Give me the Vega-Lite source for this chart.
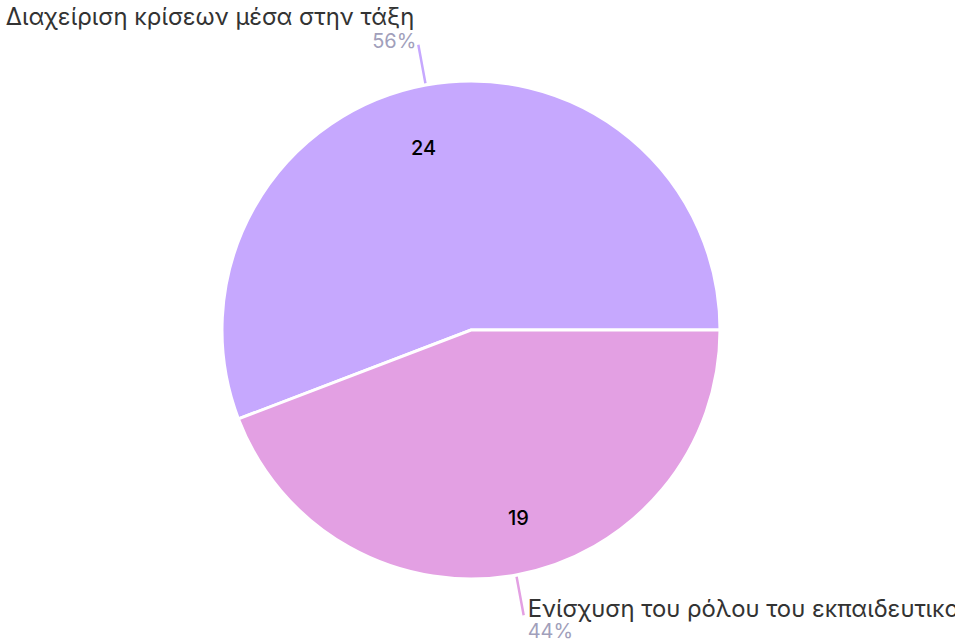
{
  "$schema": "https://vega.github.io/schema/vega-lite/v6.json",
  "autosize": {"type": "none"},
  "width": 942,
  "height": 620,
  "padding": {"left": 0, "top": 20, "right": 13, "bottom": 1},
  "background": "white",
  "config": {"view": {"stroke": null}, "font": "Inter"},
  "data": {
    "values": [
      {"label": "Διαχείριση κρίσεων μέσα στην τάξη", "value": 24, "pct": "56%"},
      {"label": "Ενίσχυση του ρόλου του εκπαιδευτικού", "value": 19, "pct": "44%"}
    ]
  },
  "resolve": {"scale": {"theta": "independent"}},
  "layer": [
    {
      "mark": {"type": "arc", "radius": 249, "stroke": "white", "strokeWidth": 3},
      "encoding": {
        "theta": {"field": "value", "type": "quantitative", "stack": true, "scale": {"range": [1.5708, 7.854]}},
        "order": {"field": "label", "sort": "descending"},
        "color": {"field": "label", "type": "nominal", "legend": null,
          "scale": {"domain": ["Διαχείριση κρίσεων μέσα στην τάξη", "Ενίσχυση του ρόλου του εκπαιδευτικού"], "range": ["#c6a8fe", "#e3a0e3"]}}
      }
    },
    {
      "mark": {"type": "arc", "radius": 290, "radius2": 251, "padAngle": 3, "stroke": "#e3a0e3", "strokeWidth": 2.5, "fill": null},
      "encoding": {
        "theta": {"field": "value", "type": "quantitative", "stack": true, "scale": {"range": [1.5708, 7.854]}},
        "order": {"field": "label", "sort": "descending"},
        "strokeOpacity": {"condition": {"test": "datum.label === 'Ενίσχυση του ρόλου του εκπαιδευτικού'", "value": 1}, "value": 0}
      }
    },
    {
      "mark": {"type": "arc", "radius": 290, "radius2": 251, "padAngle": 3, "stroke": "#c6a8fe", "strokeWidth": 2.5, "fill": null},
      "encoding": {
        "theta": {"field": "value", "type": "quantitative", "stack": true, "scale": {"range": [4.7124, 10.9956]}},
        "order": {"field": "label", "sort": "descending"},
        "strokeOpacity": {"condition": {"test": "datum.label === 'Ενίσχυση του ρόλου του εκπαιδευτικού'", "value": 1}, "value": 0}
      }
    },
    {
      "mark": {"type": "text", "radius": 191, "thetaOffset": -0.068, "fontSize": 20, "fontWeight": 500, "fill": "#000000", "dy": 4},
      "encoding": {
        "theta": {"field": "value", "type": "quantitative", "stack": true, "scale": {"range": [1.5708, 7.854]}},
        "order": {"field": "label", "sort": "descending"},
        "text": {"field": "value", "type": "quantitative"}
      }
    },
    {
      "mark": {"type": "text", "radius": 290, "fontSize": 23.8, "fill": "#333333", "align": "right", "baseline": "alphabetic", "dx": -4, "dy": -20},
      "encoding": {
        "theta": {"field": "value", "type": "quantitative", "stack": true, "scale": {"range": [1.5708, 7.854]}},
        "order": {"field": "label", "sort": "descending"},
        "text": {"field": "label", "type": "nominal"},
        "opacity": {"condition": {"test": "datum.label === 'Διαχείριση κρίσεων μέσα στην τάξη'", "value": 1}, "value": 0}
      }
    },
    {
      "mark": {"type": "text", "radius": 290, "fontSize": 20, "fill": "#a19fbb", "align": "right", "baseline": "alphabetic", "dx": -2, "dy": 3},
      "encoding": {
        "theta": {"field": "value", "type": "quantitative", "stack": true, "scale": {"range": [1.5708, 7.854]}},
        "order": {"field": "label", "sort": "descending"},
        "text": {"field": "pct", "type": "nominal"},
        "opacity": {"condition": {"test": "datum.label === 'Διαχείριση κρίσεων μέσα στην τάξη'", "value": 1}, "value": 0}
      }
    },
    {
      "mark": {"type": "text", "radius": 290, "fontSize": 23.8, "fill": "#333333", "align": "left", "baseline": "alphabetic", "dx": 4, "dy": 2},
      "encoding": {
        "theta": {"field": "value", "type": "quantitative", "stack": true, "scale": {"range": [1.5708, 7.854]}},
        "order": {"field": "label", "sort": "descending"},
        "text": {"field": "label", "type": "nominal"},
        "opacity": {"condition": {"test": "datum.label === 'Ενίσχυση του ρόλου του εκπαιδευτικού'", "value": 1}, "value": 0}
      }
    },
    {
      "mark": {"type": "text", "radius": 290, "fontSize": 20, "fill": "#a19fbb", "align": "left", "baseline": "alphabetic", "dx": 4, "dy": 23},
      "encoding": {
        "theta": {"field": "value", "type": "quantitative", "stack": true, "scale": {"range": [1.5708, 7.854]}},
        "order": {"field": "label", "sort": "descending"},
        "text": {"field": "pct", "type": "nominal"},
        "opacity": {"condition": {"test": "datum.label === 'Ενίσχυση του ρόλου του εκπαιδευτικού'", "value": 1}, "value": 0}
      }
    }
  ]
}
